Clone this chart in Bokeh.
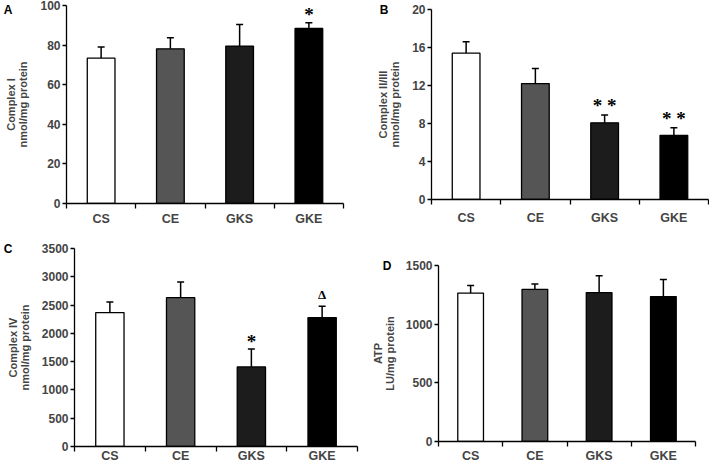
from bokeh.plotting import figure
from bokeh.models import (Range1d, FixedTicker, Whisker, TeeHead, ColumnDataSource,
                          LinearAxis)
from bokeh.layouts import column, row
from bokeh.embed import file_html
from bokeh.resources import INLINE

# ---------------- data ----------------
groups = ["CS", "CE", "GKS", "GKE"]
bar_colors = ["#ffffff", "#555555", "#1c1c1c", "#000000"]

complex1_mean = [73.4, 78.1, 79.5, 88.4]
complex1_upper = [79.0, 83.7, 90.4, 91.3]
complex1_marks = ["", "", "", "*"]

complex23_mean = [15.4, 12.2, 8.07, 6.76]
complex23_upper = [16.6, 13.8, 8.9, 7.54]
complex23_marks = ["", "", "* *", "* *"]

complex4_mean = [2367, 2631, 1407, 2279]
complex4_upper = [2555, 2907, 1723, 2480]
complex4_marks = ["", "", "*", "Δ"]

atp_mean = [1265, 1297, 1269, 1235]
atp_upper = [1330, 1342, 1413, 1381]
atp_marks = ["", "", "", ""]

ticks_A = [0, 20, 40, 60, 80, 100]
ticks_B = [0, 4, 8, 12, 16, 20]
ticks_C = [0, 500, 1000, 1500, 2000, 2500, 3000, 3500]
ticks_D = [0, 500, 1000, 1500]

FONT = "Liberation Sans"


def panel(letter, ylabel, means, uppers, marks, yticks, w, h,
          bl, br, bt, bb, label_standoff, xstandoff, letter_standoff):
    p = figure(width=w, height=h, output_backend="svg", toolbar_location=None,
               x_range=Range1d(0, 4), y_range=Range1d(yticks[0], yticks[-1]),
               min_border_left=bl, min_border_right=br, min_border_top=bt,
               min_border_bottom=bb)
    p.outline_line_color = None
    p.xgrid.visible = False
    p.ygrid.visible = False
    p.background_fill_color = None
    p.border_fill_color = None

    xs = [i + 0.5 for i in range(len(groups))]
    src = ColumnDataSource(dict(x=xs, top=means, upper=uppers, color=bar_colors,
                                mark=marks,
                                size=["13px" if m == "Δ" else "19px" for m in marks],
                                yoff=[-12 if m == "Δ" else (-9 if m == "* *" else -8)
                                      for m in marks]))
    p.vbar(x="x", top="top", width=0.4, bottom=0, source=src,
           fill_color="color", line_color="black", line_width=1.3)
    wh = Whisker(base="x", lower="top", upper="upper", source=src,
                 line_color="black", line_width=1.5,
                 lower_head=None,
                 upper_head=TeeHead(size=7, line_color="black", line_width=1.5))
    p.add_layout(wh)
    p.text(x="x", y="upper", text="mark", source=src, text_align="center",
           text_baseline="alphabetic", text_font_size="size", y_offset="yoff",
           text_font_style="bold", text_color="black", text_font=FONT)

    ya = p.yaxis[0]
    ya.ticker = FixedTicker(ticks=yticks, minor_ticks=[])
    ya.axis_label = ylabel
    ya.axis_label_text_font = FONT
    ya.axis_label_text_font_style = "bold"
    ya.axis_label_text_font_size = "11px"
    ya.axis_label_text_line_height = 1.0
    ya.axis_label_standoff = label_standoff
    ya.major_label_text_font = FONT
    ya.major_label_text_font_style = "bold"
    ya.major_label_text_font_size = "12px"
    ya.major_label_standoff = 2
    ya.major_tick_out = 4
    ya.major_tick_in = 0
    ya.minor_tick_out = 0
    ya.minor_tick_in = 0
    ya.axis_line_width = 1.3
    ya.major_tick_line_width = 1.3

    xa = p.xaxis[0]
    xa.ticker = FixedTicker(ticks=xs, minor_ticks=[0, 1, 2, 3, 4])
    xa.major_label_overrides = {x: g for x, g in zip(xs, groups)}
    xa.major_label_text_font = FONT
    xa.major_label_text_font_style = "bold"
    xa.major_label_text_font_size = "12.5px"
    xa.major_label_standoff = xstandoff
    xa.major_tick_out = 0
    xa.major_tick_in = 0
    xa.minor_tick_out = 5
    xa.minor_tick_in = 0
    xa.minor_tick_line_width = 1.3
    xa.axis_line_width = 1.3

    # panel letter, drawn as the single tick label of an outer, line-less axis
    top = yticks[-1]
    la = LinearAxis(ticker=FixedTicker(ticks=[top], minor_ticks=[]),
                    major_label_overrides={top: letter},
                    axis_line_color=None, major_tick_line_color=None,
                    minor_tick_line_color=None,
                    major_tick_out=0, major_tick_in=0, minor_tick_out=0, minor_tick_in=0,
                    major_label_standoff=letter_standoff,
                    major_label_text_font=FONT, major_label_text_font_style="bold",
                    major_label_text_font_size="12px", major_label_text_color="black")
    p.add_layout(la, "left")
    return p


pA = panel("A", "Complex I\nnmol/mg protein", complex1_mean, complex1_upper,
           complex1_marks, ticks_A, 360, 228, 60, 17, 5, 25, 8, 3, -10)
pB = panel("B", "Complex II/III\nnmol/mg protein", complex23_mean, complex23_upper,
           complex23_marks, ticks_B, 349, 228, 71, 1, 9, 29, 8, 6, -14)
pC = panel("C", "Complex IV\nnmol/mg protein", complex4_mean, complex4_upper,
           complex4_marks, ticks_C, 360, 237, 67, 3, 20, 19, 8, -3, -9)
pD = panel("D", "ATP\nLU/mg protein", atp_mean, atp_upper,
           atp_marks, ticks_D, 349, 237, 78, 14, 37, 24, 7, 2, -23)

page = column(row(column(pA), column(pB)), row(column(pC), column(pD)))

open("out.html", "w").write(file_html(page, INLINE))
